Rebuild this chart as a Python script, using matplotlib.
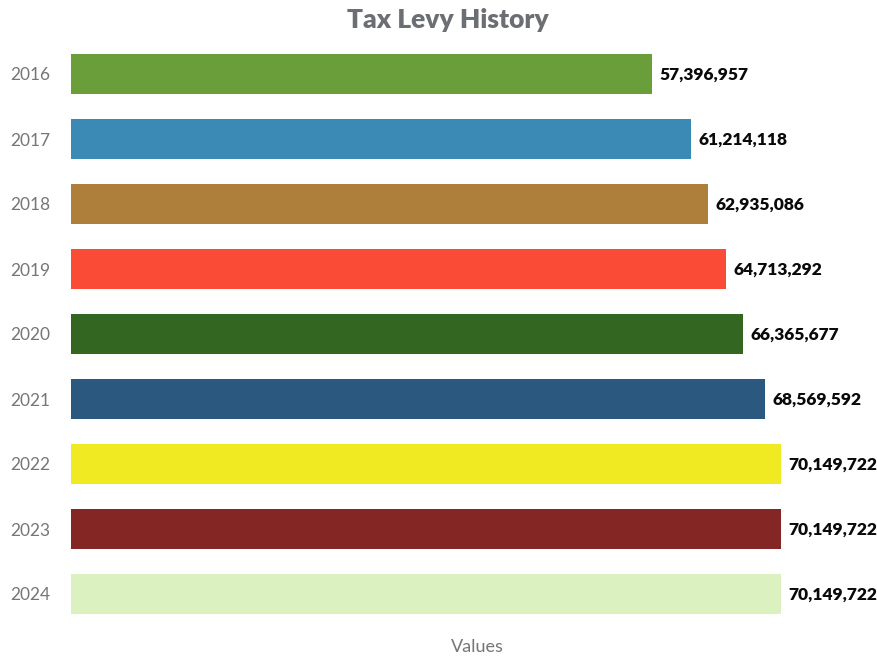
import matplotlib
matplotlib.use("Agg")
import matplotlib.pyplot as plt

years = ["2016", "2017", "2018", "2019", "2020", "2021", "2022", "2023", "2024"]
levy = [57396957, 61214118, 62935086, 64713292, 66365677, 68569592, 70149722, 70149722, 70149722]
colors = ["#6a9e3a", "#3b89b5", "#ad7f3b", "#fa4b37", "#336620",
          "#2a587e", "#f0ea23", "#842623", "#dbf2c0"]

W, H = 878, 656
fig = plt.figure(figsize=(W / 100, H / 100), dpi=100)
ax = fig.add_axes([71 / W, 1 - 626.5 / H, (781 - 71) / W, (626.5 - 41.5) / H])

ypos = list(range(len(years)))
ax.barh(ypos, levy, height=0.615, color=colors)
ax.set_xlim(0, max(levy))
ax.set_ylim(len(years) - 0.5, -0.5)

for y, v in zip(ypos, levy):
    ax.annotate(f"{v:,}", xy=(v, y), xytext=(5.5, -0.5), textcoords="offset points",
                ha="left", va="center", fontsize=12.5, fontweight="heavy",
                family="Lato", color="#0a0a0a", annotation_clip=False)

ax.set_yticks(ypos)
ax.set_yticklabels(years, family="Lato", fontsize=12.5, color="#767676", fontweight="normal")
ax.tick_params(axis="y", length=0, pad=15)
ax.set_xticks([])
for s in ax.spines.values():
    s.set_visible(False)

fig.text(477 / W, 1 - 647 / H, "Values", ha="center", va="center",
         family="Lato", fontsize=13, color="#767676", fontweight="normal")
fig.text(448 / W, 1 - 19.5 / H, "Tax Levy History", ha="center", va="center",
         family="Lato", fontsize=19, color="#6b6e73", fontweight="heavy")

fig.savefig("out.png", dpi=100)
